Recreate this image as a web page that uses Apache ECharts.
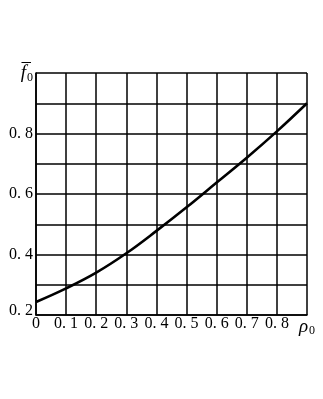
<!DOCTYPE html>
<html>
<head>
<meta charset="utf-8">
<script src="https://cdn.jsdelivr.net/npm/echarts@6/dist/echarts.min.js"></script>
<style>
html,body{margin:0;padding:0;background:#fff;}
#chart{width:323px;height:399px;}
</style>
</head>
<body>
<div id="chart"></div>
<script>
var rhoValues = [0, 0.1, 0.2, 0.3, 0.4, 0.5, 0.6, 0.7, 0.8, 0.9];
var fValues = [0.243, 0.288, 0.340, 0.404, 0.478, 0.556, 0.638, 0.720, 0.807, 0.900];
var xTickLabels = ['0', '0. 1', '0. 2', '0. 3', '0. 4', '0. 5', '0. 6', '0. 7', '0. 8', '{it|ρ}{sub|0}'];
var yTickLabels = {2: '{lift|0. 2}', 4: '0. 4', 6: '0. 6', 8: '0. 8', 10: '{it|f\u0305}{sub|0}'};

var serif = '"Liberation Serif", "DejaVu Serif", serif';
var rich = {
  it: {fontFamily: serif, fontStyle: 'italic', fontSize: 19, color: '#000'},
  sub: {fontFamily: serif, fontSize: 12, color: '#000', padding: [9, 0, 0, 1]},
  lift: {fontFamily: serif, fontSize: 16, color: '#000', padding: [0, 0, 8, 0]}
};

var chart = echarts.init(document.getElementById('chart'), null, {renderer: 'canvas'});
chart.setOption({
  animation: false,
  backgroundColor: '#fff',
  grid: {left: 36, right: 16, top: 73, bottom: 84, containLabel: false},
  xAxis: {
    type: 'value', min: 0, max: 0.9, interval: 0.1,
    axisLine: {show: true, lineStyle: {color: '#000', width: 1.6}},
    axisTick: {show: false},
    splitLine: {show: true, lineStyle: {color: '#000', width: 1.5}},
    axisLabel: {
      color: '#000', fontFamily: serif, fontSize: 16, margin: 1,
      formatter: function (v) { return xTickLabels[Math.round(v * 10)]; },
      rich: rich
    }
  },
  yAxis: {
    type: 'value', min: 0.2, max: 1.0, interval: 0.1,
    axisLine: {show: true, lineStyle: {color: '#000', width: 1.6}},
    axisTick: {show: false},
    splitLine: {show: true, lineStyle: {color: '#000', width: 1.5}},
    axisLabel: {
      color: '#000', fontFamily: serif, fontSize: 16, margin: 3,
      formatter: function (v) { var k = Math.round(v * 10); return yTickLabels[k] || ''; },
      rich: rich
    }
  },
  series: [{
    type: 'line',
    data: rhoValues.map(function (x, i) { return [x, fValues[i]]; }),
    smooth: 0.4,
    showSymbol: false,
    lineStyle: {color: '#000', width: 2.6},
    clip: false
  }]
});
</script>
</body>
</html>
